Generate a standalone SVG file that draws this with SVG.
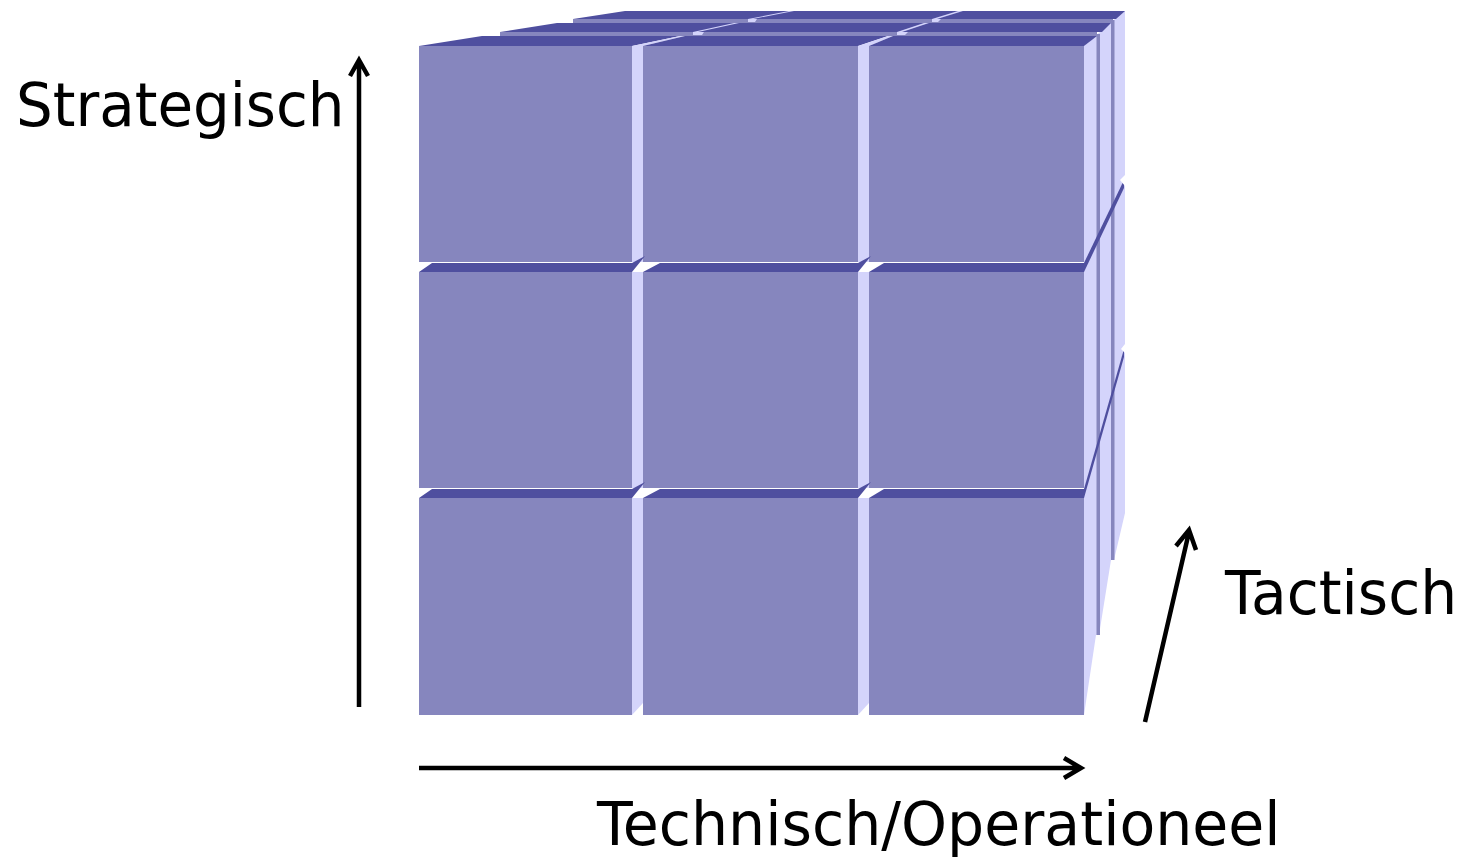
<svg xmlns="http://www.w3.org/2000/svg" width="1461" height="857" viewBox="0 0 1461 857">
<style>
.f{fill:#8686be}.d{fill:#4f4f9f}.l{fill:#d4d4fb}.w{fill:#fff}
.a{fill:none;stroke:#000;stroke-width:4.5}
text{font-family:"DejaVu Sans",Verdana,sans-serif;font-size:60px;fill:#000}
</style>
<rect width="1461" height="857" fill="#fff"/>
<g id="back-layers">
<polygon class="l" points="1084,46 1124,11 1125,11 1125,513 1114,560 1111,560 1099,635 1096,635 1084,715"/>
<rect class="f" x="1096.5" y="34" width="3.5" height="601"/>
<rect class="f" x="1111" y="20" width="3.5" height="540"/>
<polygon class="d" points="573,19 625,11 1125,11 1116,19"/>
<rect class="f" x="573" y="19" width="540" height="4"/>
<polygon class="d" points="500,32 557,23 1111,23 1102,32"/>
<rect class="f" x="500" y="32" width="597" height="4"/>
<polygon class="l" points="748,19 753,19 794,11 789,11"/>
<polygon class="l" points="932,19 937,19 963,11 958,11"/>
<polygon class="l" points="693,32 698,32 739,23 734,23"/>
<polygon class="l" points="897,32 902,32 929,23 924,23"/>
<polygon class="l" points="748,19 757,19 755,22 748,22"/>
<polygon class="l" points="932,19 941,19 938,22 932,22"/>
<polygon class="l" points="693,32 704,32 702,35 693,35"/>
<polygon class="l" points="897,32 908,32 905,35 897,35"/>
<polygon class="d" points="1084,272 1084,263 1124,180 1124,188"/>
<polygon class="w" points="1120,180 1125,175 1125,186"/>
<polygon class="d" points="1084,498 1084,489 1124,349 1124,357"/>
<polygon class="w" points="1121,349 1125,344 1125,353"/>
</g>
<g id="cube-1-1"><polygon class="d" points="419,46 482,36 680,36 632,46"/><polygon class="l" points="632,46 680,36 685,36 643,46"/><rect class="f" x="419" y="46" width="213" height="216"/><rect class="l" x="632" y="46" width="11" height="216"/></g>
<g id="cube-1-2"><polygon class="d" points="643,46 685,36 888,36 858,46"/><polygon class="l" points="858,46 888,36 893,36 869,46"/><rect class="f" x="643" y="46" width="215" height="216"/><rect class="l" x="858" y="46" width="11" height="216"/></g>
<g id="cube-1-3"><polygon class="d" points="869,46 893,36 1097,36 1084,46"/><rect class="f" x="869" y="46" width="215" height="216"/></g>
<g id="cube-2-1"><rect class="w" x="419" y="262" width="213" height="1"/><polygon class="d" points="419,272 432,263 632,263 645,256 632,272"/><polygon class="w" points="633,272 645,263 660,262 643,272"/><rect class="f" x="419" y="272" width="213" height="216"/><rect class="l" x="632" y="272" width="11" height="216"/></g>
<g id="cube-2-2"><polygon class="d" points="643,272 660,263 858,263 871,256 858,272"/><polygon class="w" points="859,272 871,263 884,262 869,272"/><rect class="f" x="643" y="272" width="215" height="216"/><rect class="l" x="858" y="272" width="11" height="216"/></g>
<g id="cube-2-3"><polygon class="d" points="869,272 884,263 1084,263 1084,272"/><rect class="f" x="869" y="272" width="215" height="216"/></g>
<g id="cube-3-1"><rect class="w" x="419" y="488" width="213" height="1"/><polygon class="d" points="419,498 432,489 632,489 645,482 632,498"/><polygon class="w" points="633,498 645,489 660,488 643,498"/><rect class="f" x="419" y="498" width="213" height="217"/><polygon class="l" points="632,498 643,498 643,703 632,715"/></g>
<g id="cube-3-2"><polygon class="d" points="643,498 660,489 858,489 871,482 858,498"/><polygon class="w" points="859,498 871,489 884,488 869,498"/><rect class="f" x="643" y="498" width="215" height="217"/><polygon class="l" points="858,498 869,498 869,703 858,715"/></g>
<g id="cube-3-3"><polygon class="d" points="869,498 884,489 1084,489 1084,498"/><rect class="f" x="869" y="498" width="215" height="217"/></g>
<g id="connectors">
<path class="a" d="M359 707V62M350 76L359 60L368 76"/>
<path class="a" d="M419 768H1080M1064 758L1081 768L1064 778"/>
<path class="a" d="M1145 722L1189 532M1176 546L1189 530L1196 550"/>
</g>
<g id="labels">
<text transform="translate(16 126) scale(.965 1)">Strategisch</text>
<text transform="translate(1225 614) scale(.972 1)">Tactisch</text>
<text transform="translate(597 845) scale(.976 1)">Technisch/Operationeel</text>
</g>
</svg>
